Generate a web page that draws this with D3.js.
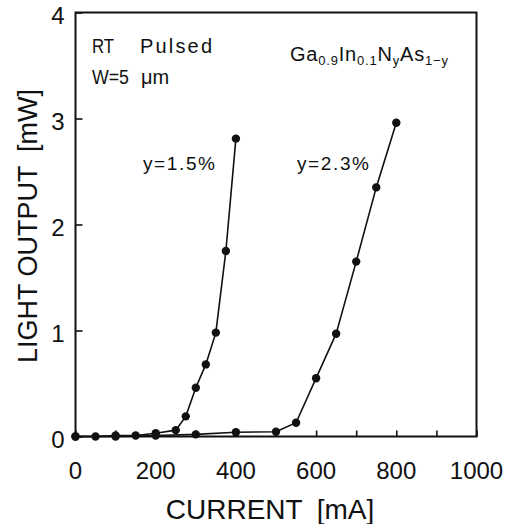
<!DOCTYPE html>
<html>
<head>
<meta charset="utf-8">
<script src="https://cdn.jsdelivr.net/npm/d3@7"></script>
<style>
  html, body { margin: 0; padding: 0; background: #fff; }
  svg { display: block; }
  text { font-family: "Liberation Sans", Arial, sans-serif; fill: #111; }
</style>
</head>
<body>
<div id="chart"></div>
<script>
// Light output vs. drive current for GaInNAs lasers, two nitrogen contents
const current15 = [0, 50, 100, 150, 200, 250, 275, 300, 325, 350, 375, 400];
const power15   = [0, 0, 0.01, 0.01, 0.03, 0.06, 0.19, 0.46, 0.68, 0.98, 1.75, 2.81];

const current23 = [0, 100, 200, 300, 400, 500, 550, 600, 650, 700, 750, 800];
const power23   = [0, 0, 0.01, 0.02, 0.04, 0.045, 0.13, 0.55, 0.97, 1.65, 2.35, 2.96];

const seriesLabels = ["y=1.5%", "y=2.3%"];
const xTickValues = [0, 200, 400, 600, 800, 1000];
const xMinorTicks = [100, 300, 500, 700, 900];
const yTickValues = [0, 1, 2, 3, 4];

const W = 516, H = 524;
const margin = { left: 75.5, right: 39.5, top: 12.5, bottom: 87.5 };
const pw = W - margin.left - margin.right;
const ph = H - margin.top - margin.bottom;

const svg = d3.select("#chart").append("svg")
  .attr("width", W).attr("height", H);

const x = d3.scaleLinear().domain([0, 1000]).range([margin.left, margin.left + pw]);
const y = d3.scaleLinear().domain([0, 4]).range([margin.top + ph, margin.top]);

// inward ticks on bottom and left
const xAxis = svg.append("g")
  .attr("transform", `translate(0,${margin.top + ph})`)
  .call(d3.axisBottom(x).tickValues(xTickValues.concat(xMinorTicks)).tickSize(-6).tickFormat(""));
const yAxis = svg.append("g")
  .attr("transform", `translate(${margin.left},0)`)
  .call(d3.axisLeft(y).tickValues(yTickValues).tickSize(-7).tickFormat(""));
[xAxis, yAxis].forEach(g => {
  g.select(".domain").remove();
  g.selectAll("line").attr("stroke", "#111").attr("stroke-width", 1.6);
});

// tick labels
svg.append("g").selectAll("text").data(xTickValues).join("text")
  .attr("x", d => x(d)).attr("y", margin.top + ph + 42)
  .attr("text-anchor", "middle").attr("font-size", 24)
  .text(d => d);
svg.append("g").selectAll("text").data(yTickValues).join("text")
  .attr("x", margin.left - 11).attr("y", d => y(d) + 11)
  .attr("text-anchor", "end").attr("font-size", 24)
  .text(d => d);

// plot frame
svg.append("rect")
  .attr("x", margin.left).attr("y", margin.top)
  .attr("width", pw).attr("height", ph)
  .attr("fill", "none").attr("stroke", "#111").attr("stroke-width", 2);

// axis titles
svg.append("text")
  .attr("x", 270).attr("y", 519)
  .attr("text-anchor", "middle").attr("font-size", 28)
  .text("CURRENT\u2002[mA]");
svg.append("text")
  .attr("transform", "translate(37,226) rotate(-90)")
  .attr("text-anchor", "middle").attr("font-size", 27)
  .text("LIGHT OUTPUT\u2002[mW]");

// data series
const line = d3.line().x(d => x(d[0])).y(d => y(d[1]));
const series = [
  d3.zip(current15, power15),
  d3.zip(current23, power23)
];
series.forEach(pts => {
  svg.append("path").datum(pts)
    .attr("d", line).attr("fill", "none")
    .attr("stroke", "#111").attr("stroke-width", 1.6);
  svg.append("g").selectAll("circle").data(pts).join("circle")
    .attr("cx", d => x(d[0])).attr("cy", d => y(d[1])).attr("r", 4.2)
    .attr("fill", "#111");
});

// series labels
svg.append("text").attr("x", 143).attr("y", 170).attr("font-size", 19)
  .attr("textLength", 72).attr("lengthAdjust", "spacing").text(seriesLabels[0]);
svg.append("text").attr("x", 297).attr("y", 170).attr("font-size", 19)
  .attr("textLength", 72).attr("lengthAdjust", "spacing").text(seriesLabels[1]);

// measurement conditions
const note = svg.append("g").attr("font-size", 20);
note.append("text").attr("x", 92).attr("y", 53)
  .attr("textLength", 22).attr("lengthAdjust", "spacingAndGlyphs").text("RT");
note.append("text").attr("x", 140).attr("y", 53)
  .attr("textLength", 72).attr("lengthAdjust", "spacing").text("Pulsed");
note.append("text").attr("x", 92).attr("y", 84)
  .attr("textLength", 37).attr("lengthAdjust", "spacingAndGlyphs").text("W=5");
note.append("text").attr("x", 141).attr("y", 84).text("\u03bcm");

// alloy composition Ga0.9In0.1NyAs1-y, one text with subscript runs
const formula = [
  { t: "Ga", sub: false },
  { t: "0.9", sub: true },
  { t: "In", sub: false },
  { t: "0.1", sub: true },
  { t: "N", sub: false },
  { t: "y", sub: true },
  { t: "As", sub: false },
  { t: "1\u2212y", sub: true }
];
const ftext = svg.append("text").attr("x", 290).attr("y", 61)
  .attr("letter-spacing", 0.8);
let shifted = false;
formula.forEach(p => {
  const dy = p.sub === shifted ? 0 : (p.sub ? 4 : -4);
  shifted = p.sub;
  ftext.append("tspan")
    .attr("dy", dy)
    .attr("font-size", p.sub ? 13 : 20)
    .text(p.t);
});
</script>
</body>
</html>
